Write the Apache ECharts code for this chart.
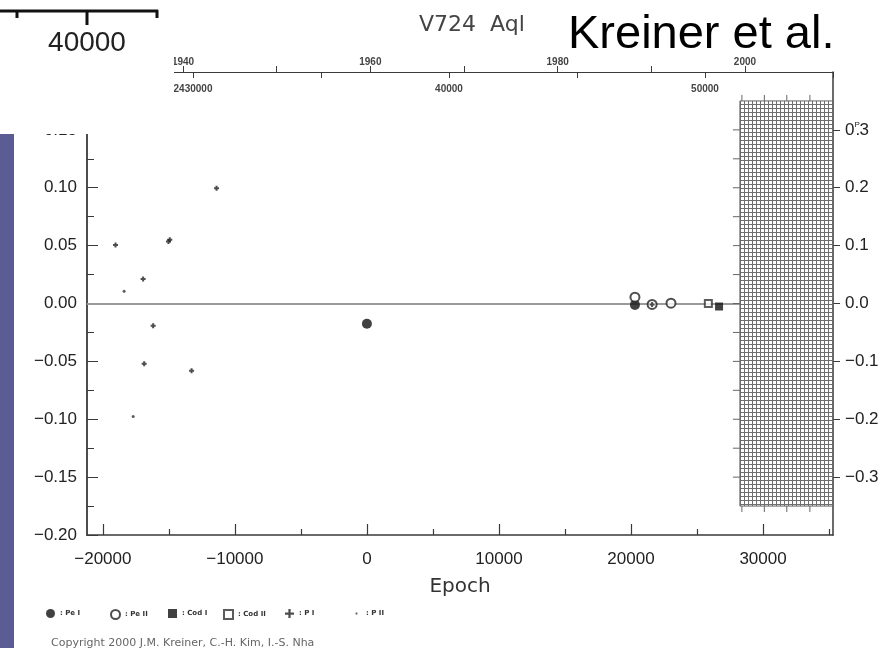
<!DOCTYPE html>
<html>
<head>
<meta charset="utf-8">
<script src="https://cdn.jsdelivr.net/npm/echarts@6/dist/echarts.min.js"></script>
<style>
  html, body { margin: 0; padding: 0; background: #fff; }
  #chart { width: 885px; height: 648px; }
</style>
</head>
<body>
<div id="chart"></div>
<script>
// O–C residuals (days) against cycle number, one list per kind of timing
const pe1 = [[0, -0.0175], [20300, -0.0012]];
const pe2 = [[20300, 0.0055], [21600, -0.0008], [23030, 0.0003]];
const cod1 = [[26670, -0.0026]];
const cod2 = [[25860, 0.0001]];
const p1 = [
  [-11390, 0.0995], [-19040, 0.0506], [-15030, 0.0535], [-14930, 0.0550],
  [-16950, 0.0212], [-16190, -0.0192], [-16870, -0.0520], [-13280, -0.0580],
  [21600, -0.0008]
];
const p2 = [[-18390, 0.0106], [-17700, -0.0977]];

// axis ranges and tick values
const epochRange = [-21200, 35300];
const epochMajor = [-20000, -10000, 0, 10000, 20000, 30000];
const epochMinor = [-15000, -5000, 5000, 15000, 25000, 35000];
const ocRange = [-0.2, 0.2];
const ocRightRange = [-0.4, 0.4];
const yearRange = [1929.75, 2009.4];
const yearTicks = [1940, 1950, 1960, 1970, 1980, 1990, 2000];
const yearLabels = [1940, 1960, 1980, 2000];
const jdRange = [2425860, 2455000];
const jdTicks = [2430000, 2435000, 2440000, 2445000, 2450000, 2455000];
const jdLabels = [2430000, 2440000, 2450000];

// hatched panel at the recent end
const panelX = [28250, 35300];
const panelY = [-0.175, 0.175];
const panelTickY = [-0.15, -0.125, -0.1, -0.075, -0.05, -0.025, 0, 0.025, 0.05, 0.075, 0.1, 0.125, 0.15];
const panelTickX = [28400, 30100, 31800, 33550];

// key entries: name, icon
const legendNames = ['Pe I', 'Pe II', 'Cod I', 'Cod II', 'P I', 'P II'];
const legendIcons = [
  'circle', 'emptyCircle', 'rect', 'emptyRect',
  'path://M4,1H6V4H9V6H6V9H4V6H1V4H4Z',
  'path://M0,0h0.01v0.01h-0.01z M4,4h2v2h-2z M9.99,9.99h0.01v0.01h-0.01z'
];
const legendLeft = [46, 110, 168, 223, 285, 352];

const MINUS = '\u2212';
const fmt = (v, d) => (v < -1e-12 ? MINUS : '') + Math.abs(v).toFixed(d);

// fine mesh fill
const meshCanvas = document.createElement('canvas');
meshCanvas.width = 4; meshCanvas.height = 4;
const mg = meshCanvas.getContext('2d');
mg.fillStyle = '#6e6e6e'; mg.fillRect(0, 0, 4, 4);
mg.fillStyle = '#ffffff'; mg.fillRect(1, 1, 3, 3);
const mesh = { image: meshCanvas, repeat: 'repeat' };

const PLUS = 'path://M3,0H7V3H10V7H7V10H3V7H0V3H3Z';

function renderPanel(params, api) {
  const tl = api.coord([panelX[0], panelY[1]]);
  const br = api.coord([panelX[1], panelY[0]]);
  const kids = [{
    type: 'rect',
    shape: { x: tl[0], y: tl[1], width: br[0] - tl[0], height: br[1] - tl[1] },
    style: { fill: mesh, stroke: '#666', lineWidth: 1 }
  }];
  panelTickY.forEach(v => {
    const p = api.coord([panelX[0], v]);
    kids.push({ type: 'line', shape: { x1: p[0] - 7, y1: p[1], x2: p[0], y2: p[1] }, style: { stroke: '#666', lineWidth: 1 } });
  });
  panelTickX.forEach(v => {
    const t = api.coord([v, panelY[1]]);
    const b = api.coord([v, panelY[0]]);
    kids.push({ type: 'line', shape: { x1: t[0], y1: t[1] - 6, x2: t[0], y2: t[1] }, style: { stroke: '#666', lineWidth: 1 } });
    kids.push({ type: 'line', shape: { x1: b[0], y1: b[1], x2: b[0], y2: b[1] + 6 }, style: { stroke: '#666', lineWidth: 1 } });
  });
  return { type: 'group', children: kids };
}

const axisColor = '#3a3a3a';
const labelFont = 'Liberation Sans, Arial, sans-serif';

const legends = legendNames.map((n, i) => ({
  left: legendLeft[i], top: 609, padding: 0,
  itemWidth: 9, itemHeight: 9,
  selectedMode: false,
  formatter: name => ': ' + name,
  textStyle: { fontFamily: 'DejaVu Sans', fontSize: 7, fontWeight: 'bold', color: '#333' },
  data: [{ name: n, icon: legendIcons[i] }]
}));

const chart = echarts.init(document.getElementById('chart'), null, { renderer: 'canvas' });
chart.setOption({
  animation: false,
  backgroundColor: '#ffffff',
  title: [
    { text: 'V724  Aql', left: 414, top: 9, textStyle: { fontFamily: 'DejaVu Sans', fontSize: 22, fontWeight: 'normal', color: '#444' } },
    { text: 'Kreiner et al.', left: 563, top: 7, textStyle: { fontFamily: labelFont, fontSize: 47, fontWeight: 'normal', color: '#000' } },
    { text: 'Copyright 2000 J.M. Kreiner, C.-H. Kim, I.-S. Nha', left: 46, top: 633, textStyle: { fontFamily: 'DejaVu Sans', fontSize: 11, fontWeight: 'normal', color: '#666' } }
  ],
  legend: legends,
  grid: { left: 87, right: 52, top: 72, bottom: 113, containLabel: false },
  xAxis: [
    {
      type: 'value', position: 'bottom', min: epochRange[0], max: epochRange[1],
      axisLine: { onZero: false, lineStyle: { color: axisColor, width: 1.5 } },
      axisTick: { inside: true, length: 11, customValues: epochMajor, lineStyle: { color: axisColor, width: 1.2 } },
      axisLabel: { customValues: epochMajor, formatter: v => (v < 0 ? MINUS : '') + Math.abs(v), fontFamily: labelFont, fontSize: 17, color: '#222', margin: 16 },
      splitLine: { show: false },
      name: 'Epoch', nameLocation: 'middle', nameGap: 42,
      nameTextStyle: { fontFamily: 'DejaVu Sans', fontSize: 20, color: '#333' }
    },
    {
      type: 'value', position: 'top', min: yearRange[0], max: yearRange[1],
      axisLine: { onZero: false, lineStyle: { color: axisColor, width: 1.2 } },
      axisTick: { inside: false, length: 6, customValues: yearTicks, lineStyle: { color: axisColor } },
      axisLabel: { customValues: yearLabels, formatter: v => String(v), fontFamily: labelFont, fontSize: 10, fontWeight: 'bold', color: '#444', margin: 5 },
      splitLine: { show: false }
    },
    {
      type: 'value', position: 'top', min: jdRange[0], max: jdRange[1],
      axisLine: { onZero: false, lineStyle: { color: axisColor, width: 1.2 } },
      axisTick: { inside: true, length: 6, customValues: jdTicks, lineStyle: { color: axisColor } },
      axisLabel: { inside: true, customValues: jdLabels, formatter: v => v === 2430000 ? String(v) : String(v - 2400000), fontFamily: labelFont, fontSize: 10, fontWeight: 'bold', color: '#444', margin: 12 },
      splitLine: { show: false }
    },
    {
      type: 'value', position: 'bottom', min: epochRange[0], max: epochRange[1],
      axisLine: { show: false, onZero: false },
      axisTick: { inside: true, length: 6, customValues: epochMinor, lineStyle: { color: axisColor, width: 1.2 } },
      axisLabel: { show: false },
      splitLine: { show: false }
    }
  ],
  yAxis: [
    {
      type: 'value', position: 'left', min: ocRange[0], max: ocRange[1], interval: 0.05,
      axisLine: { show: true, onZero: false, lineStyle: { color: axisColor, width: 1.8 } },
      axisTick: { show: true, inside: true, length: 11, lineStyle: { color: axisColor } },
      minorTick: { show: true, splitNumber: 2, length: 7, lineStyle: { color: axisColor } },
      axisLabel: { formatter: v => fmt(v, 2), fontFamily: labelFont, fontSize: 17, color: '#222', margin: 10 },
      splitLine: { show: false }
    },
    {
      type: 'value', position: 'right', min: ocRightRange[0], max: ocRightRange[1], interval: 0.1,
      axisLine: { show: true, onZero: false, lineStyle: { color: axisColor, width: 1.5 } },
      axisTick: { show: true, inside: false, length: 7, lineStyle: { color: axisColor } },
      axisLabel: {
        showMinLabel: false, showMaxLabel: false, margin: 12,
        formatter: v => Math.abs(v - 0.3) < 1e-9 ? '{a|0}{p|P}{d|.}{a|3}' : fmt(v, 1),
        fontFamily: labelFont, fontSize: 17, color: '#222',
        rich: {
          a: { fontFamily: labelFont, fontSize: 17, color: '#222', lineHeight: 18 },
          p: { fontFamily: labelFont, fontSize: 8, color: '#222', verticalAlign: 'top', width: 1, lineHeight: 18 },
          d: { fontFamily: labelFont, fontSize: 17, color: '#222', lineHeight: 18, width: 4 }
        }
      },
      splitLine: { show: false }
    }
  ],
  graphic: [
    { type: 'rect', z: 100, shape: { x: 0, y: 0, width: 174, height: 134 }, style: { fill: '#ffffff' } },
    { type: 'line', z: 101, shape: { x1: 0, y1: 11, x2: 158, y2: 11 }, style: { stroke: '#111', lineWidth: 3 } },
    { type: 'line', z: 101, shape: { x1: 17, y1: 11, x2: 17, y2: 18 }, style: { stroke: '#111', lineWidth: 3 } },
    { type: 'line', z: 101, shape: { x1: 87, y1: 11, x2: 87, y2: 25 }, style: { stroke: '#111', lineWidth: 3 } },
    { type: 'line', z: 101, shape: { x1: 157, y1: 10, x2: 157, y2: 18 }, style: { stroke: '#111', lineWidth: 3 } },
    { type: 'text', z: 101, style: { x: 87, y: 43, text: '40000', font: '28px "Liberation Sans", Arial, sans-serif', fill: '#222', align: 'center', verticalAlign: 'middle' } },
    { type: 'rect', z: 100, shape: { x: 0, y: 134, width: 14, height: 514 }, style: { fill: '#5c5c94' } }
  ],
  series: [
    {
      type: 'custom', name: 'panel', xAxisIndex: 0, yAxisIndex: 0, z: 3, silent: true,
      renderItem: renderPanel, data: [[panelX[0], panelY[0]]], clip: false
    },
    {
      type: 'scatter', name: 'Pe I', xAxisIndex: 0, yAxisIndex: 0, z: 5,
      symbol: 'circle', symbolSize: 10, itemStyle: { color: '#111' }, data: pe1,
      markLine: {
        silent: true, symbol: 'none', label: { show: false }, z: 1,
        lineStyle: { color: '#9a9a9a', width: 2, type: 'solid' },
        data: [{ yAxis: 0 }]
      }
    },
    {
      type: 'scatter', name: 'Pe II', xAxisIndex: 0, yAxisIndex: 0, z: 5,
      symbol: 'emptyCircle', symbolSize: 9, itemStyle: { color: '#222', borderColor: '#222', borderWidth: 1.5 }, data: pe2
    },
    {
      type: 'scatter', name: 'Cod I', xAxisIndex: 0, yAxisIndex: 0, z: 5,
      symbol: 'rect', symbolSize: 8, itemStyle: { color: '#111' }, data: cod1
    },
    {
      type: 'scatter', name: 'Cod II', xAxisIndex: 0, yAxisIndex: 0, z: 5,
      symbol: 'emptyRect', symbolSize: 7, itemStyle: { color: '#333', borderColor: '#333', borderWidth: 1.2 }, data: cod2
    },
    {
      type: 'scatter', name: 'P I', xAxisIndex: 0, yAxisIndex: 0, z: 6,
      symbol: PLUS, symbolSize: 5, itemStyle: { color: '#222' }, data: p1
    },
    {
      type: 'scatter', name: 'P II', xAxisIndex: 0, yAxisIndex: 0, z: 6,
      symbol: 'circle', symbolSize: 3, itemStyle: { color: '#333' }, data: p2
    }
  ]
});
</script>
</body>
</html>
